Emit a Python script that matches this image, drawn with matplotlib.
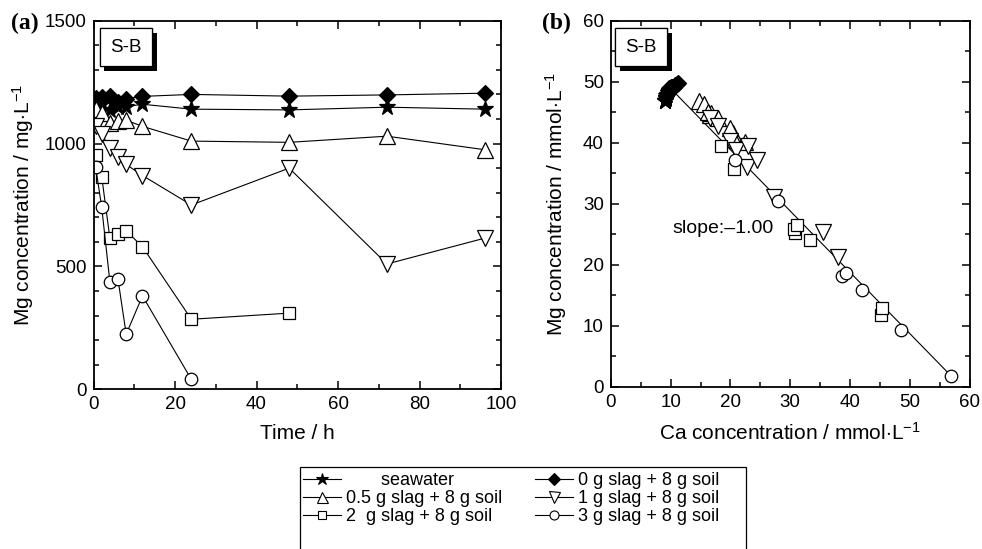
import matplotlib
matplotlib.use("Agg")
import matplotlib.pyplot as plt
import matplotlib.patheffects as pe
from matplotlib.lines import Line2D
from matplotlib.patches import Rectangle

plt.rcParams["font.family"] = ["Liberation Sans", "DejaVu Sans"]
plt.rcParams["mathtext.fontset"] = "custom"
plt.rcParams["mathtext.rm"] = "Liberation Sans"
plt.rcParams["mathtext.it"] = "Liberation Sans:italic"
plt.rcParams["mathtext.bf"] = "Liberation Sans:bold"

# ---- panel (a): Mg concentration (mg/L) vs time (h) ----
time_h = [0.5, 2, 4, 6, 8, 12, 24, 48, 72, 96]
mg_seawater = [1150, 1160, 1135, 1150, 1150, 1160, 1140, 1137, 1148, 1140]
mg_slag0 = [1185, 1190, 1192, 1170, 1183, 1192, 1200, 1193, 1198, 1205]
mg_slag05 = [1140, 1125, 1085, 1090, 1095, 1070, 1010, 1005, 1030, 975]
mg_slag1 = [1070, 1040, 980, 945, 915, 870, 750, 900, 510, 615]
mg_slag2 = [955, 865, 615, 630, 645, 580, 285, 310]
mg_slag3 = [905, 740, 437, 447, 224, 380, 40]

# ---- panel (b): Mg vs Ca (mmol/L) ----
ca_seawater = [9.2, 9.3, 9.0, 9.2, 9.3, 9.4, 9.1, 9.0, 9.2, 9.1]
mgm_seawater = [47.3, 47.7, 46.8, 47.4, 47.3, 47.8, 46.9, 46.8, 47.2, 46.9]
ca_slag0 = [9.5, 9.8, 10.0, 9.6, 9.7, 10.3, 11.2, 10.5, 10.8, 11.0]
mgm_slag0 = [48.7, 49.0, 49.2, 48.1, 48.6, 49.2, 49.8, 49.2, 49.4, 49.6]
ca_slag05 = [14.8, 15.5, 16.5, 16.8, 16.3, 18.0, 20.5, 20.2, 20.0, 22.4]
mgm_slag05 = [46.9, 46.3, 44.6, 44.8, 45.0, 44.0, 41.6, 41.3, 42.4, 40.1]
ca_slag1 = [16.5, 18.0, 20.0, 21.0, 23.0, 22.7, 27.2, 24.4, 37.9, 35.5]
mgm_slag1 = [44.0, 42.8, 40.3, 38.9, 39.5, 36.1, 31.2, 37.2, 21.3, 25.4]
ca_slag2 = [18.5, 20.6, 30.8, 30.7, 31.2, 33.3, 45.1, 45.3]
mgm_slag2 = [39.4, 35.7, 25.3, 25.9, 26.6, 24.1, 11.8, 12.9]
ca_slag3 = [20.7, 27.9, 38.6, 39.3, 48.5, 42.0, 56.9]
mgm_slag3 = [37.2, 30.5, 18.1, 18.6, 9.3, 15.9, 1.8]
fit_ca = [11.0, 56.9]
fit_mg = [47.9, 1.8]

labels = ["       seawater", "0 g slag + 8 g soil",
          "0.5 g slag + 8 g soil", "1 g slag + 8 g soil",
          "2  g slag + 8 g soil", "3 g slag + 8 g soil"]

styles = {
    "seawater": dict(marker="*", mfc="black", ms=12),
    "slag0": dict(marker="D", mfc="black", ms=8.5),
    "slag05": dict(marker="^", mfc="white", ms=11),
    "slag1": dict(marker="v", mfc="white", ms=11),
    "slag2": dict(marker="s", mfc="white", ms=8.5),
    "slag3": dict(marker="o", mfc="white", ms=9),
}

fig = plt.figure(figsize=(9.82, 5.49), dpi=100)
ax1 = fig.add_axes([0.0953, 0.2909, 0.4149, 0.6714])
ax2 = fig.add_axes([0.622, 0.2951, 0.3655, 0.6672])

series_a = [
    ("seawater", mg_seawater), ("slag0", mg_slag0), ("slag05", mg_slag05),
    ("slag1", mg_slag1), ("slag2", mg_slag2), ("slag3", mg_slag3),
]
for key, vals in series_a:
    ax1.plot(time_h[:len(vals)], vals, color="black", lw=0.8, mec="black",
             mew=0.9, **styles[key])

ax2.plot(fit_ca, fit_mg, color="black", lw=0.8, zorder=1)
series_b = [
    ("seawater", ca_seawater, mgm_seawater), ("slag0", ca_slag0, mgm_slag0),
    ("slag05", ca_slag05, mgm_slag05), ("slag1", ca_slag1, mgm_slag1),
    ("slag2", ca_slag2, mgm_slag2), ("slag3", ca_slag3, mgm_slag3),
]
for key, xs, ys in series_b:
    ax2.plot(xs, ys, ls="none", mec="black", mew=0.9, zorder=2, **styles[key])

ax1.set_xlim(0, 100)
ax1.set_ylim(0, 1500)
ax1.set_xticks(range(0, 101, 20))
ax1.set_xticks(range(10, 100, 20), minor=True)
ax1.set_yticks([0, 500, 1000, 1500])
ax1.set_yticks([v for v in range(100, 1500, 100) if v % 500], minor=True)
ax1.set_xlabel("Time / h", fontsize=15, labelpad=8)
ax1.set_ylabel(r"Mg concentration / mg$\cdot$L$^{-1}$", fontsize=15, labelpad=6)

ax2.set_xlim(0, 60)
ax2.set_ylim(0, 60)
ax2.set_xticks(range(0, 61, 10))
ax2.set_xticks(range(5, 60, 10), minor=True)
ax2.set_yticks(range(0, 61, 10))
ax2.set_yticks(range(5, 60, 10), minor=True)
ax2.set_xlabel(r"Ca concentration / mmol$\cdot$L$^{-1}$", fontsize=15, labelpad=8)
ax2.set_ylabel(r"Mg concentration / mmol$\cdot$L$^{-1}$", fontsize=15, labelpad=10)
ax2.text(10.3, 26.0, "slope:\u20131.00", fontsize=14, va="center", ha="left")

for ax in (ax1, ax2):
    for s in ax.spines.values():
        s.set_linewidth(1.3)
    ax.tick_params(which="both", direction="in", top=True, right=True,
                   labelsize=13.5, width=1.1)
    ax.tick_params(which="major", length=6, pad=5)
    ax.tick_params(which="minor", length=3.5)
    t = ax.text(0.04, 0.928, "S-B", transform=ax.transAxes, fontsize=13.5,
                ha="left", va="center",
                bbox=dict(boxstyle="square,pad=0.55", fc="white", ec="black", lw=0.9))
    t.get_bbox_patch().set_path_effects(
        [pe.withSimplePatchShadow(offset=(3.5, -3.5), shadow_rgbFace="black", alpha=1.0),
         pe.Normal()])

fig.text(0.011, 0.958, "(a)", fontsize=17, fontweight="bold",
         family="Liberation Serif", va="center")
fig.text(0.552, 0.958, "(b)", fontsize=17, fontweight="bold",
         family="Liberation Serif", va="center")

# legend box, bottom edge cut by the figure border
fig.patches.append(Rectangle((0.3055, -0.02), 0.4542, 0.17, transform=fig.transFigure,
                             fc="white", ec="black", lw=0.9))
order = ["seawater", "slag0", "slag05", "slag1", "slag2", "slag3"]
handles = []
for key in order:
    st = dict(styles[key])
    st["ms"] = st["ms"] * 0.72
    handles.append(Line2D([], [], color="black", lw=0.8, mec="black", mew=0.8, **st))
# ncol=2 fills column-first, so list the entries column by column
col_order = [0, 2, 4, 1, 3, 5]
fig.legend([handles[i] for i in col_order], [labels[i] for i in col_order],
           ncol=2, loc="upper left", bbox_to_anchor=(0.296, 0.163),
           frameon=False, fontsize=13, handlelength=2.1, handletextpad=0.25,
           columnspacing=1.85, labelspacing=0.05, borderpad=0.2)

fig.savefig("out.png", dpi=100)
